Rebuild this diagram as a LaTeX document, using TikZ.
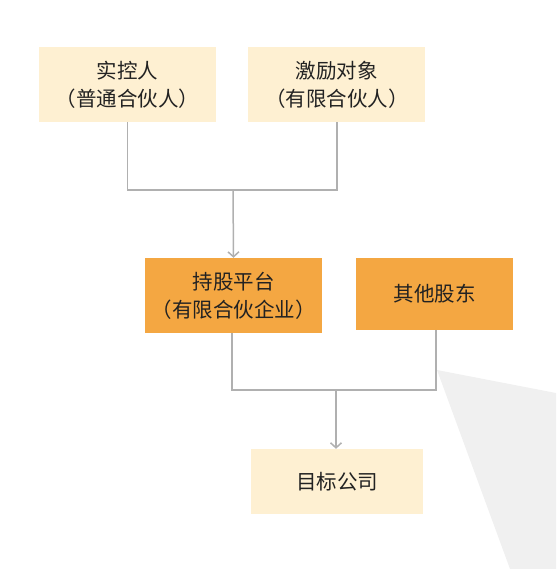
\documentclass[tikz,border=0pt]{standalone}
\usepackage{fontspec}
\setmainfont{Noto Sans CJK SC}
\usepackage{tikz}
\usetikzlibrary{arrows.meta,positioning}
\definecolor{Cream}{HTML}{FEF0D2}
\definecolor{Amber}{HTML}{F4A742}
\definecolor{Wire}{HTML}{B0B0B0}
\definecolor{Shade}{HTML}{F0F0F0}
\definecolor{Ink}{HTML}{222222}

\begin{document}
\begin{tikzpicture}[x=1pt,y=-1pt,
  every node/.style={font=\fontsize{20.5pt}{28pt}\selectfont,align=center,text=Ink},
  holder/.style={fill=Cream,minimum width=177pt,minimum height=75pt,inner sep=0pt},
  entity/.style={fill=Amber,minimum height=75pt,inner sep=0pt},
  wire/.style={draw=Wire,line width=1.5pt},
  arr/.style={wire,-{Straight Barb[length=5pt,width=11pt]}}
]
\useasboundingbox (0,0) rectangle (556,569);
\fill[Shade] (437,370) -- (556,393) -- (556,569) -- (510,569) -- cycle;
\node[holder] (ctrl) at (127.5,84.5) {实控人\\（普通合伙人）};
\node[holder,right=32pt of ctrl] (inc) {激励对象\\（有限合伙人）};
\node[entity,minimum width=177pt] (plat) at (233.5,295.5) {持股平台\\（有限合伙企业）};
\node[entity,minimum width=157pt,minimum height=72pt] (other) at (434.5,293.5) {其他股东};
\node[holder,minimum width=172pt,minimum height=65pt] (target) at (337,481.5) {目标公司};
\coordinate (up) at (233,190);
\coordinate (down) at (336,390);
\draw[wire] (ctrl.south) |- (up);
\draw[wire] (inc.south) |- (up);
\draw[arr] (up) -- (plat.north);
\draw[wire] ([xshift=-1.5pt]plat.south) |- (down);
\draw[wire] ([xshift=1.5pt]other.south) |- (down);
\draw[arr] (down) -- (down|-target.north);
\end{tikzpicture}
\end{document}
